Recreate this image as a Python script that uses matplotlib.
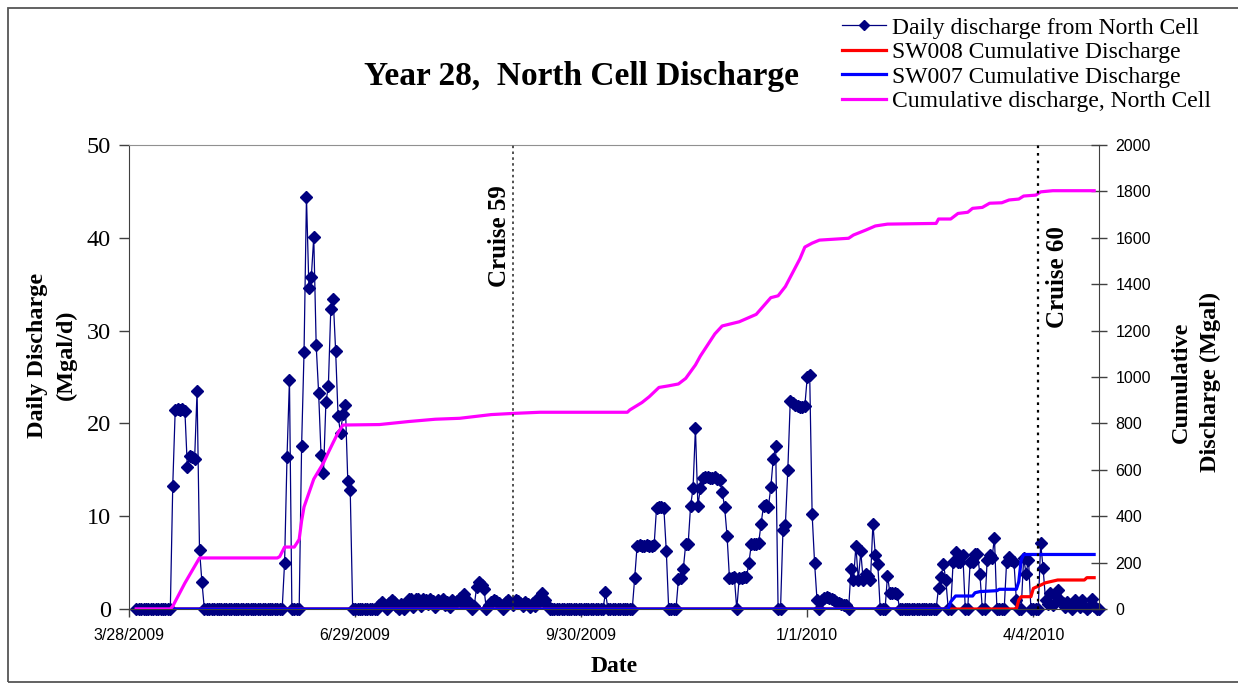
import numpy as np
import pandas as pd
import matplotlib
matplotlib.use("Agg")
import matplotlib.pyplot as plt
from matplotlib.patches import Rectangle

# Daily discharge from the North Cell (Mgal/d), one value per day from 3/31/2009
daily_start = "2009-03-31"
daily_mgd = [
    0, 0, 0, 0, 0, 0, 0, 0, 0, 0, 0, 0, 0, 0, 0,
    13.3, 21.4, 21.5, 21.4, 21.5, 21.3, 15.3, 16.5, 16.4, 16.2, 23.5, 6.4, 2.9,
    0, 0, 0, 0, 0, 0, 0, 0, 0, 0, 0, 0, 0, 0, 0, 0, 0, 0, 0, 0, 0, 0, 0, 0, 0, 0, 0, 0, 0, 0, 0, 0, 0,
    5.0, 16.4, 24.7, 0, 0, 0, 0, 17.6, 27.7, 44.4, 34.6, 35.8, 40.1, 28.4, 23.3, 16.6,
    14.7, 22.3, 24.0, 32.3, 33.4, 27.8, 20.8, 19.0, 21.0, 22.0, 13.8, 12.8,
    0, 0, 0, 0, 0, 0, 0, 0, 0, 0, 0,
    0.4, 0.8, 0.4, 0, 0.6, 1.0, 0.8, 0.3, 0, 0.5,
    0, 0.6, 1.1, 1.1, 0.2, 1.1, 1.1, 0.3, 1.1, 1.0,
    0.5, 1.1, 0.9, 0.2, 1.0, 0.6, 1.1, 0.4, 0.8, 0.2,
    1.0, 0.6, 0.9, 1.2, 0.7, 1.6, 1.0, 0.4, 0, 0.3,
    2.4, 2.9, 2.6, 2.2, 0, 0.4, 0.8, 1.0, 0.9, 0.6,
    0.3, 0, 0.8, 1.0, 0.7, 0.4, 1.0, 0.9, 0.6, 0.3,
    0.8, 0.5, 0.2, 0.6, 0.3, 1.1, 1.0, 1.7, 1.0, 0.4,
    0, 0, 0, 0, 0, 0, 0, 0, 0, 0, 0, 0, 0, 0, 0, 0, 0, 0, 0, 0, 0, 0, 0,
    1.8,
    0, 0, 0, 0, 0, 0, 0, 0, 0, 0, 0,
    3.3, 6.8, 6.9, 6.8, 6.8, 6.9, 6.8, 6.8, 6.9, 10.9, 11.0, 11.0, 10.9, 6.3,
    0, 0, 0, 0,
    3.2, 3.3, 4.3, 7.0, 7.0, 11.1, 13.0, 19.5, 11.1, 13.0,
    14.1, 14.2, 14.2, 14.1, 14.1, 14.2, 14.0, 13.9, 12.6, 11.0, 7.9,
    3.3, 3.3, 3.4, 0, 3.3, 3.3, 3.4, 3.4, 5.0, 7.0, 7.0, 7.0, 7.1, 9.2, 11.1, 11.2, 11.0, 13.1, 16.2, 17.6,
    0, 0, 8.5, 9.1, 15.0, 22.4, 22.2, 22.0, 21.9, 21.8, 21.8, 21.9, 25.0, 25.2, 10.2, 5.0, 1.0, 0,
    1.0, 1.2, 1.3, 1.2, 1.1, 1.0, 0.8, 0.6, 0.5, 0.4, 0.4, 0,
    4.3, 3.1, 6.8, 3.1, 6.2, 3.1, 3.8, 3.6, 3.1, 9.2, 5.8, 4.9, 0, 0, 0, 3.6, 1.7, 1.7, 1.7, 1.6,
    0, 0, 0, 0, 0, 0, 0, 0, 0, 0, 0, 0, 0, 0, 0, 0,
    2.3, 3.4, 4.9, 3.1, 0, 0, 5.1, 6.1, 5.1, 5.1, 5.8, 0, 0, 5.1, 5.1, 5.9, 5.9, 3.8, 0, 0,
    5.3, 5.8, 5.5, 7.7, 0, 0, 0, 0, 5.1, 5.6, 5.3, 5.1, 1.0, 0, 0, 5.5, 3.8, 5.3,
    0, 0, 0, 0,
    7.1, 4.4, 1.0, 0.5, 1.7, 0.4, 1.5, 2.0, 1.0, 0.6, 0.2, 0.8, 0.3, 0, 1.0, 0.6, 0.2, 1.0,
    0.3, 0, 0.2, 1.1, 0.3, 0, 0,
]

# Cumulative series (Mgal), given as day offsets from 3/28/2009
base_date = "2009-03-28"
north_days = [3, 17, 18, 23, 29, 61, 62, 64, 68, 70, 71, 72, 74, 76, 78, 80, 82, 84, 86, 88,
              103, 115, 126, 136, 149, 158, 169, 205, 206, 211, 214, 218, 222, 226, 229, 233,
              235, 241, 244, 251, 258, 264, 267, 270, 276, 278, 281, 284, 296, 298, 303, 307,
              312, 332, 333, 338, 341, 345, 347, 351, 354, 359, 362, 366, 368, 373, 375, 380, 397]
north_cum = [0, 0, 12, 112, 220, 220, 226, 267, 267, 300, 380, 440, 500, 560, 595, 630, 675, 718, 760, 793,
             795, 808, 818, 822, 838, 843, 848, 848, 858, 890, 915, 955, 962, 970, 994, 1052,
             1090, 1186, 1220, 1238, 1270, 1342, 1350, 1390, 1510, 1560, 1577, 1590, 1598, 1612, 1633, 1651,
             1659, 1662, 1681, 1681, 1705, 1710, 1727, 1731, 1749, 1751, 1763, 1767, 1780, 1784, 1798, 1803, 1803]

sw008_days = [3, 365, 366, 367, 371, 372, 375, 377, 382, 393, 394, 397]
sw008_cum = [0, 0, 39, 53, 53, 89, 103, 113, 125, 125, 135, 135]

sw007_days = [3, 337, 338, 340, 347, 348, 350, 357, 358, 365, 366, 367, 368, 397]
sw007_cum = [0, 0, 31, 56, 56, 70, 75, 79, 85, 85, 118, 211, 235, 235]

# Cruise dates and axis ticks
cruise_dates = ["2009-09-02", "2010-04-06"]
cruise_labels = ["Cruise 59", "Cruise 60"]
xtick_dates = ["2009-03-28", "2009-06-29", "2009-09-30", "2010-01-01", "2010-04-04"]
xtick_labels = ["3/28/2009", "6/29/2009", "9/30/2009", "1/1/2010", "4/4/2010"]

serif = "Liberation Serif"
sans = "Liberation Sans"

base = pd.Timestamp(base_date)
daily_dates = pd.date_range(daily_start, periods=len(daily_mgd), freq="D")
north_dates = [base + pd.Timedelta(days=d) for d in north_days]
sw008_dates = [base + pd.Timedelta(days=d) for d in sw008_days]
sw007_dates = [base + pd.Timedelta(days=d) for d in sw007_days]

W, H = 1238, 684
fig = plt.figure(figsize=(W / 100, H / 100), dpi=100)
ax = fig.add_axes([129 / W, 1 - 609 / H, (1099 - 129) / W, (609 - 145) / H])
ax2 = ax.twinx()

# outer chart frame
fig.patches.append(Rectangle((8 / W, 2 / H), 1.2, (682 - 8) / H, transform=fig.transFigure,
                             fill=False, ec="#555555", lw=1.3))

l_daily, = ax.plot(daily_dates, daily_mgd, color="#000080", lw=0.9, marker="D", ms=6.5,
                   mec="#000080", mfc="#000080", clip_on=False,
                   label="Daily discharge from North Cell")

l_red, = ax2.plot(sw008_dates, sw008_cum, color="#FF0000", lw=2.3, label="SW008 Cumulative Discharge")
l_blue, = ax2.plot(sw007_dates, sw007_cum, color="#0000FF", lw=2.3, label="SW007 Cumulative Discharge")
l_mag, = ax2.plot(north_dates, north_cum, color="#FF00FF", lw=2.3, label="Cumulative discharge, North Cell")

# cruise markers: the first is a finer grey dotted line, the second heavier black
ax2.axvline(pd.Timestamp(cruise_dates[0]), color="#333333", lw=1.2, ls=(0, (1.5, 2.0)), zorder=5)
ax2.axvline(pd.Timestamp(cruise_dates[1]), color="black", lw=1.6, ls=(0, (1.2, 2.2)), zorder=5)

xlim = (pd.Timestamp("2009-03-28"), pd.Timestamp("2010-05-01"))
ax.set_xlim(xlim)
ax.set_ylim(0, 50)
ax2.set_ylim(0, 2000)

ax.set_xticks([pd.Timestamp(d) for d in xtick_dates])
ax.set_xticklabels(xtick_labels, fontfamily=sans, fontsize=11.5)
ax.set_yticks(np.arange(0, 51, 10))
ax.set_yticklabels([str(v) for v in range(0, 51, 10)], fontfamily=serif, fontsize=17.5)
ax2.set_yticks(np.arange(0, 2001, 200))
ax2.set_yticklabels([str(v) for v in range(0, 2001, 200)], fontfamily=sans, fontsize=11.5)

ax.tick_params(axis="x", direction="out", length=6, width=1, color="#404040", pad=8)
ax.tick_params(axis="y", direction="out", length=7, width=1, color="#404040", pad=6)
ax2.tick_params(axis="y", direction="inout", length=12, width=1, color="#404040", pad=6)

for name, sp in ax.spines.items():
    sp.set_color("#404040")
ax.spines["top"].set_color("#909090")
ax.spines["right"].set_visible(False)
for name in ["top", "left", "bottom"]:
    ax2.spines[name].set_visible(False)
ax2.spines["right"].set_color("#404040")

fig.text(582 / W, 1 - 77 / H, "Year 28,  North Cell Discharge", ha="center", va="center",
         fontfamily=serif, fontweight="bold", fontsize=24)
fig.text(52 / W, 1 - 355 / H, "Daily Discharge\n(Mgal/d)", ha="center", va="center", rotation=90,
         fontfamily=serif, fontweight="bold", fontsize=17.5, linespacing=1.45)
fig.text(1196 / W, 1 - 382 / H, "Cumulative\nDischarge (Mgal)", ha="center", va="center", rotation=90,
         fontfamily=serif, fontweight="bold", fontsize=17.5, linespacing=1.45)
fig.text(614 / W, 1 - 666 / H, "Date", ha="center", va="center",
         fontfamily=serif, fontweight="bold", fontsize=17)
fig.text(500 / W, 1 - 236 / H, cruise_labels[0], ha="center", va="center", rotation=90,
         fontfamily=serif, fontweight="bold", fontsize=18)
fig.text(1058 / W, 1 - 277 / H, cruise_labels[1], ha="center", va="center", rotation=90,
         fontfamily=serif, fontweight="bold", fontsize=18)

fig.legend(handles=[l_daily, l_red, l_blue, l_mag], loc="upper left",
           bbox_to_anchor=(842 / W, 1 - 17 / H), frameon=False, borderaxespad=0, borderpad=0,
           prop={"family": serif, "size": 17}, handlelength=1.85, handletextpad=0.25,
           labelspacing=0.13, numpoints=1, markerscale=0.75)

fig.savefig("out.png", dpi=100)
